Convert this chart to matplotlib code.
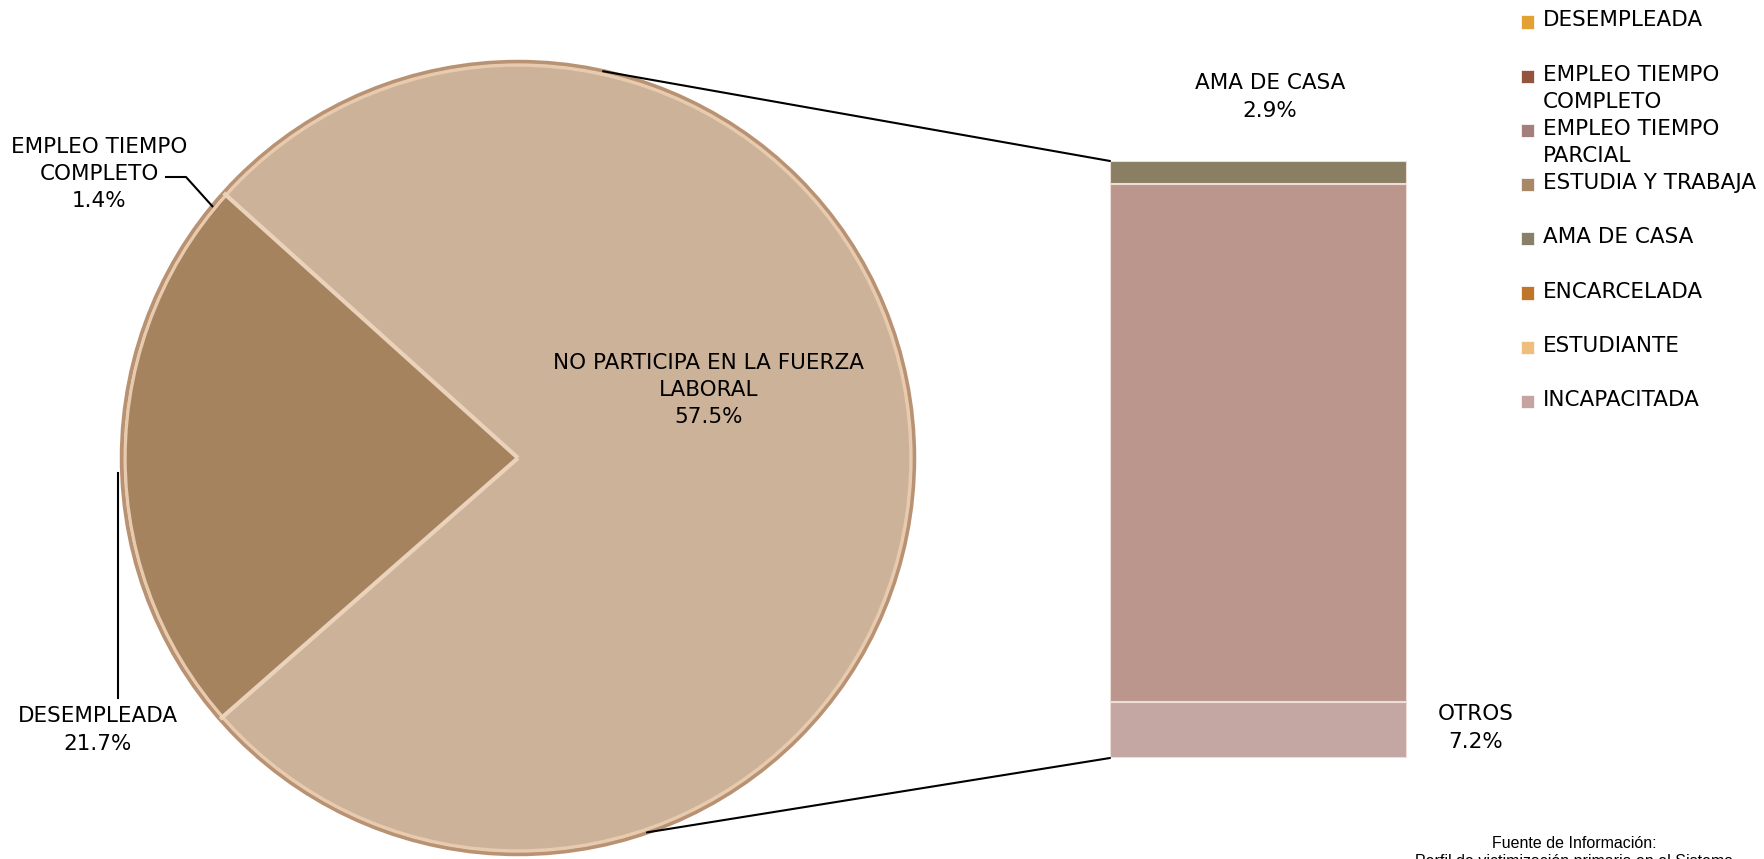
import numpy as np
import matplotlib
matplotlib.use("Agg")
import matplotlib.pyplot as plt
from matplotlib.patches import ConnectionPatch, Circle, Rectangle

# pie slices (percent of total); the last slice is the sum of the bar values
pie_names = ["EMPLEO TIEMPO\nCOMPLETO", "DESEMPLEADA"]
pie_values = [1.4, 21.7]
pie_colors = ["#A6835F", "#A6835F"]
big_label = "NO PARTICIPA EN LA FUERZA\nLABORAL\n57.5%"
big_color = "#CDB29A"

# bar of the big slice (bottom to top)
bar_names = ["OTROS", "INCAPACITADA", "AMA DE CASA"]
bar_values = [7.2, 66.7, 2.9]
bar_colors = ["#C4A7A2", "#BA968C", "#8B7F63"]

legend_labels = ["DESEMPLEADA", "EMPLEO TIEMPO\nCOMPLETO", "EMPLEO TIEMPO\nPARCIAL",
                 "ESTUDIA Y TRABAJA", "AMA DE CASA", "ENCARCELADA", "ESTUDIANTE",
                 "INCAPACITADA"]
legend_colors = ["#E1A233", "#94553F", "#A57F7C", "#A88866", "#878066",
                 "#C0762A", "#EFBE7E", "#C6A4A2"]

W, H = 1765, 859
font = "DejaVu Sans"
fs = 15.5
ls = 1.45

fig = plt.figure(figsize=(W / 100, H / 100), dpi=100)
ax = fig.add_axes([0, 0, 1, 1])

cx, cy, r = 518, 401, 396
values = pie_values + [sum(bar_values)]
colors = pie_colors + [big_color]
wedges, _ = ax.pie(values, colors=colors, center=(cx, cy), radius=r,
                   startangle=138, counterclock=True,
                   wedgeprops=dict(linewidth=1))
for w in wedges:
    w.set_edgecolor(w.get_facecolor())
big = wedges[-1]
# light edges only around the big slice
for th in (big.theta1, big.theta2):
    t = np.deg2rad(th)
    ax.plot([cx, cx + r * np.cos(t)], [cy, cy + r * np.sin(t)],
            color="#EBD3BB", lw=3, solid_capstyle="butt")
ax.add_patch(Circle((cx, cy), r - 3, fill=False, edgecolor="#E8CBAE", lw=2.5))
ax.add_patch(Circle((cx, cy), r + 0.5, fill=False, edgecolor="#B89272", lw=2.5))
ax.set_xlim(0, W)
ax.set_ylim(0, H)
ax.set_aspect("equal")
ax.axis("off")


def rim(theta, rr=r):
    t = np.deg2rad(theta)
    return cx + rr * np.cos(t), cy + rr * np.sin(t)


# label for EMPLEO TIEMPO COMPLETO
w0 = wedges[0]
px, py = rim((w0.theta1 + w0.theta2) / 2)
ax.plot([166, 186, px], [H - 177, H - 177, py], color="black", lw=1.5)
ax.text(99, H - 174, pie_names[0] + "\n%.1f%%" % pie_values[0], ha="center",
        va="center", fontsize=fs, family=font, linespacing=ls)

# label for DESEMPLEADA
w1 = wedges[1]
px, py = rim((w1.theta1 + w1.theta2) / 2)
ax.plot([px - 4, px - 4], [py, H - 698], color="black", lw=1.5)
ax.text(98, H - 730, pie_names[1] + "\n%.1f%%" % pie_values[1], ha="center",
        va="center", fontsize=fs, family=font, linespacing=ls)

ax.text(709, H - 390, big_label, ha="center", va="center", fontsize=fs,
        family=font, linespacing=ls)

# stacked bar
bx = fig.add_axes([1110 / W, (H - 758) / H, 297 / W, 597 / H])
bottom = 0
for name, v, c in zip(bar_names, bar_values, bar_colors):
    bx.bar(0, v, bottom=bottom, width=1, color=c, edgecolor="#EEDCD6", lw=1.5)
    bottom += v
bx.set_xlim(-0.5, 0.5)
bx.set_ylim(0, sum(bar_values))
bx.axis("off")

ax.text(1270, H - 97, "%s\n%.1f%%" % (bar_names[2], bar_values[2]), ha="center",
        va="center", fontsize=fs, family=font, linespacing=ls)
ax.text(1250, H - 441, "%s\n%.1f%%" % (bar_names[1], bar_values[1]), ha="center",
        va="center", fontsize=fs, family=font, linespacing=ls)
ax.text(1476, H - 728, "%s\n%.1f%%" % (bar_names[0], bar_values[0]), ha="center",
        va="center", fontsize=fs, family=font, linespacing=ls)

# connector lines from the big slice to the bar
for ang, yb in [(77.6, sum(bar_values)), (-71, 0)]:
    con = ConnectionPatch(xyA=rim(ang), coordsA=ax.transData,
                          xyB=(-0.5, yb), coordsB=bx.transData,
                          color="black", lw=1.5)
    fig.add_artist(con)

# legend
for i, (lab, c) in enumerate(zip(legend_labels, legend_colors)):
    y = H - (21.5 + 54.2 * i)
    fig.patches.append(Rectangle((1521 / W, (y - 7) / H), 13 / W, 13 / H,
                                 transform=fig.transFigure, facecolor=c,
                                 edgecolor="#FFFFFF", lw=0.5))
    fig.text(1543 / W, (y + 11) / H, lab, ha="left", va="top", fontsize=fs,
             family=font, linespacing=1.45)

# source note (cut by the bottom edge, as in the original)
fig.text(1574 / W, (H - 843) / H, "Fuente de Información:", ha="center",
         va="center", fontsize=11.5, family="Liberation Sans")
fig.text(1574 / W, (H - 854) / H, "Perfil de victimización primaria en el Sistema",
         ha="center", va="top", fontsize=11.5, family="Liberation Sans")

fig.savefig("out.png", dpi=100)
